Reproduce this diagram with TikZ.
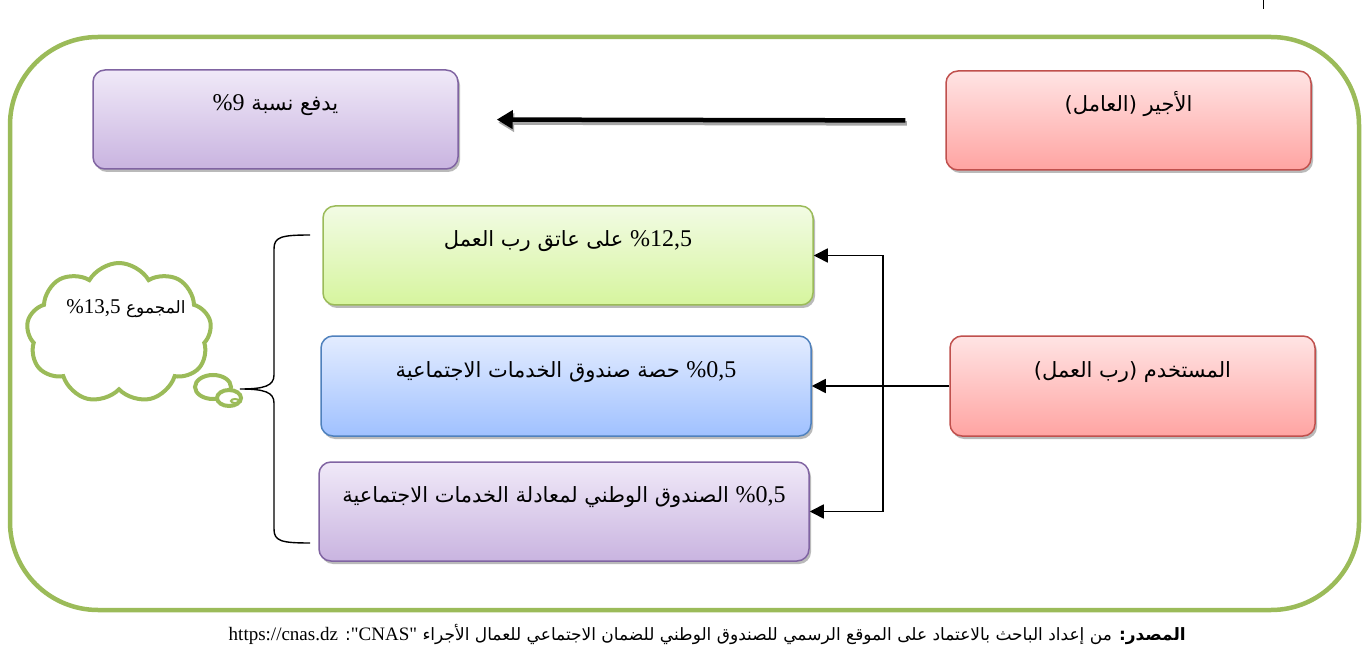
\documentclass[tikz,border=0pt]{standalone}
\usepackage{fontspec}
\setmainfont{Liberation Serif}
\newfontfamily\arabicfont[Script=Arabic]{DejaVu Sans}
\newfontfamily\latinplain{Liberation Serif}
\TeXXeTstate=1
\usetikzlibrary{shapes.symbols,shapes.geometric,arrows.meta,shadows}
\definecolor{frameGreen}{HTML}{9BBB59}
\definecolor{purpleLine}{HTML}{8064A2}
\definecolor{purpleTop}{HTML}{F0E9F8}
\definecolor{purpleBot}{HTML}{C9B4E0}
\definecolor{redLine}{HTML}{C0504D}
\definecolor{redTop}{HTML}{FFE4E4}
\definecolor{redBot}{HTML}{FFA4A2}
\definecolor{greenTop}{HTML}{F2FBE4}
\definecolor{greenBot}{HTML}{D6F59E}
\definecolor{blueLine}{HTML}{4F81BD}
\definecolor{blueTop}{HTML}{E3ECFF}
\definecolor{blueBot}{HTML}{A0C1FF}
\newcommand{\num}[2][24]{\beginL{\rmfamily\fontsize{#1}{#1}\selectfont #2}\endL}
\newcommand{\pct}[1][24]{{\rmfamily\fontsize{#1}{#1}\selectfont\%}}
\begin{document}
\begin{tikzpicture}[x=1pt,y=-1pt,
  boxbase/.style={rounded corners=12pt, line width=1.5pt, align=center,
    text height=16pt, text depth=34pt,
    font=\fontsize{21}{24}\selectfont\arabicfont,
    drop shadow={shadow xshift=2pt, shadow yshift=-3pt, opacity=0.45, fill=black!60}},
  purplebox/.style={boxbase, draw=purpleLine, top color=purpleTop, bottom color=purpleBot},
  redbox/.style={boxbase, draw=redLine, top color=redTop, bottom color=redBot},
  greenbox/.style={boxbase, draw=frameGreen, top color=greenTop, bottom color=greenBot},
  bluebox/.style={boxbase, draw=blueLine, top color=blueTop, bottom color=blueBot},
  wide/.style={minimum width=490pt, minimum height=99pt},
  narrow/.style={minimum width=365pt, minimum height=99pt},
  conn/.style={line width=1.6pt, -{Triangle[length=14pt,width=14pt]}},
  bigarrow/.style={line width=4.5pt, -{Triangle[length=16pt,width=18pt]}, shorten <=40pt, shorten >=38pt},
]
\useasboundingbox (0,0) rectangle (1368,660);
\fill[white] (0,0) rectangle (1368,660);

% stray tick at top
\draw[line width=0.8pt] (1263,0) -- (1263,9);

% outer frame
\draw[frameGreen, line width=4.5pt, rounded corners=88pt] (10,37) rectangle (1359,610);

% nodes
\node[purplebox, narrow] (pay) at (275.5,119.5) {\beginR يدفع نسبة \num{9}\pct\endR};
\node[redbox, narrow] (worker) at (1128.5,120.5) {\beginR الأجير (العامل)\endR};
\node[greenbox, wide] (b1) at (568,255.5) {\beginR\num{12,5}\pct{} على عاتق رب العمل\endR};
\node[bluebox, wide, minimum height=100pt] (b2) at (566,386) {\beginR\num{0,5}\pct{} حصة صندوق الخدمات الاجتماعية\endR};
\node[purplebox, wide] (b3) at (564,511.5) {\beginR\num{0,5}\pct{} الصندوق الوطني لمعادلة الخدمات الاجتماعية\endR};
\node[redbox, narrow, minimum height=100pt] (emp) at (1132.5,386) {\beginR المستخدم (رب العمل)\endR};

% big arrow worker -> pay
\draw[bigarrow, black!35, transform canvas={xshift=1.5pt,yshift=-3pt}] (worker.west) -- (pay.east);
\draw[bigarrow] (worker.west) -- (pay.east);

% employer connectors
\coordinate (j) at (883,386);
\draw[conn] (emp.west) -- (b2.east);
\draw[conn] (j) |- (b1.east);
\draw[conn] (j) |- (b3.east);

% brace
\coordinate (btop) at (310,235);
\coordinate (bbot) at (310,543);
\coordinate (btip) at (240,389);
\draw[line width=1.4pt] (btop) .. controls (281,235) and (274,237) .. (274,249) -- (274,375)
   .. controls (274,386) and (264,389) .. (btip)
   .. controls (264,389) and (274,392) .. (274,403) -- (274,529)
   .. controls (274,541) and (281,543) .. (bbot);

% thought cloud
\node[cloud, cloud puffs=9, cloud puff arc=120, cloud ignores aspect, draw=frameGreen, line width=4pt, fill=white,
      minimum width=185pt, minimum height=140pt] (sum) at (119,333) {};
\node[ellipse, draw=frameGreen, line width=4pt, fill=white, minimum width=36pt, minimum height=24pt, inner sep=0pt] (bub1) at (213,387) {};
\node[ellipse, draw=frameGreen, line width=4pt, fill=white, minimum width=24pt, minimum height=16pt, inner sep=0pt] (bub2) at (229,398) {};
\node[ellipse, draw=frameGreen, line width=2pt, minimum width=8pt, minimum height=4pt, inner sep=0pt] (bub3) at (235,401) {};
\node[font=\fontsize{17}{20}\selectfont\arabicfont] (sumtxt) at (126,309) {\beginR المجموع \num[21]{13,5}\pct[21]\endR};

% source line
\node[anchor=east, inner sep=0pt, font=\fontsize{17}{19}\selectfont\arabicfont] (src) at (1186,634)
 {\beginR\textbf{المصدر:} من إعداد الباحث بالاعتماد على الموقع الرسمي للصندوق الوطني للضمان الاجتماعي للعمال الأجراء \beginL{\latinplain\fontsize{19}{19}\selectfont "CNAS"}\endL: \beginL{\latinplain\fontsize{19}{19}\selectfont https://cnas.dz}\endL\endR};
\end{tikzpicture}
\end{document}
